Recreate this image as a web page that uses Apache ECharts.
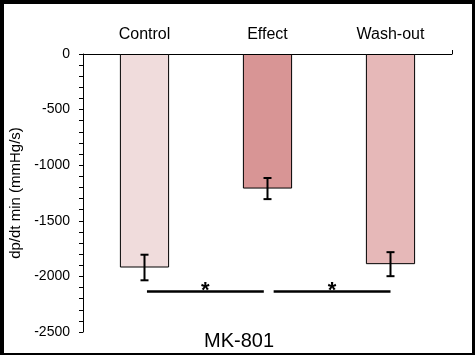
<!DOCTYPE html>
<html>
<head>
<meta charset="utf-8">
<script src="https://cdn.jsdelivr.net/npm/echarts@6/dist/echarts.min.js"></script>
<style>
html,body{margin:0;padding:0;background:#000;}
#chart{width:475px;height:355px;}
</style>
</head>
<body>
<div id="chart"></div>
<script>
// ---- data ----
var categories = ['Control', 'Effect', 'Wash-out'];
var means = [-1920, -1210, -1890];
var errors = [115, 95, 108];
var barColors = ['#f0dcdc', '#d89595', '#e6b8b8'];
var yTicks = [0, -500, -1000, -1500, -2000, -2500];
// significance brackets: [xStart, xEnd] on a 0..3 category-span scale
var sigStarts = [0.52, 1.55];
var sigEnds = [1.47, 2.50];
var sigLevel = -2130;
var sigLabels = ['*', '*'];
var yName = 'dp/dt min (mmHg/s)';
var titleText = 'MK-801';

var chart = echarts.init(document.getElementById('chart'), null, {renderer: 'canvas'});

var barData = means.map(function (v, i) {
  return {value: v, itemStyle: {color: barColors[i]}};
});
var errData = means.map(function (v, i) {
  return [i, v + errors[i], v - errors[i]];
});
var sigData = sigStarts.map(function (s, i) {
  return [s, sigEnds[i], sigLevel, sigLabels[i]];
});

var font = 'Liberation Sans, Arial, sans-serif';

chart.setOption({
  backgroundColor: '#000',
  animation: false,
  graphic: [{
    type: 'rect', z: -100, silent: true,
    shape: {x: 4, y: 4, width: 468, height: 349},
    style: {fill: '#fff'}
  }],
  title: {
    text: titleText, left: 234, top: 326, textAlign: 'center',
    textStyle: {fontFamily: font, fontSize: 20, fontWeight: 'normal', color: '#000'}
  },
  grid: {left: 81, top: 54, right: 23, bottom: 23},
  xAxis: [{
    type: 'category', data: categories, position: 'top',
    axisLine: {lineStyle: {color: '#000', width: 1}},
    axisTick: {alignWithLabel: true, length: 4, lineStyle: {color: '#000'}},
    axisLabel: {color: '#000', fontFamily: font, fontSize: 16, margin: 11}
  }, {
    type: 'value', min: 0, max: 3, position: 'top', show: true,
    axisLine: {show: false},
    axisTick: {show: true, length: 4, customValues: [3], lineStyle: {color: '#000'}},
    axisLabel: {show: false},
    splitLine: {show: false}
  }],
  yAxis: {
    type: 'value', min: -2500, max: 0, interval: 500,
    name: yName, nameLocation: 'middle', nameGap: 60, nameRotate: 90,
    nameTextStyle: {fontFamily: font, fontSize: 15, color: '#000'},
    axisLine: {show: true, lineStyle: {color: '#000', width: 1}},
    axisTick: {show: true, length: 4, lineStyle: {color: '#000'}},
    minorTick: {show: true, splitNumber: 5, length: 4, lineStyle: {color: '#000'}},
    axisLabel: {color: '#000', fontFamily: font, fontSize: 14, margin: 13,
      formatter: function (v) { return String(v); }},
    splitLine: {show: false}
  },
  series: [{
    type: 'bar', data: barData, barWidth: '40%',
    itemStyle: {borderColor: '#000', borderWidth: 1},
    z: 2
  }, {
    type: 'custom', data: errData, z: 5,
    renderItem: function (params, api) {
      var x = api.value(0);
      var top = api.coord([x, api.value(1)]);
      var bot = api.coord([x, api.value(2)]);
      var cx = top[0], hw = 4;
      var st = {stroke: '#000', lineWidth: 2};
      return {type: 'group', children: [
        {type: 'line', shape: {x1: cx, y1: top[1], x2: cx, y2: bot[1]}, style: st},
        {type: 'line', shape: {x1: cx - hw, y1: top[1], x2: cx + hw, y2: top[1]}, style: st},
        {type: 'line', shape: {x1: cx - hw, y1: bot[1], x2: cx + hw, y2: bot[1]}, style: st}
      ]};
    }
  }, {
    type: 'custom', data: sigData, xAxisIndex: 1, z: 5,
    renderItem: function (params, api) {
      var p1 = api.coord([api.value(0), api.value(2)]);
      var p2 = api.coord([api.value(1), api.value(2)]);
      var y = Math.round(p1[1]) + 0.5;
      return {type: 'group', children: [
        {type: 'line', shape: {x1: p1[0], y1: y, x2: p2[0], y2: y},
         style: {stroke: '#000', lineWidth: 2.5}},
        {type: 'text', style: {text: sigLabels[params.dataIndex], x: (p1[0] + p2[0]) / 2, y: y - 1,
          textAlign: 'center', textVerticalAlign: 'middle', fill: '#000',
          font: 'bold 22px ' + font}}
      ]};
    }
  }]
});
</script>
</body>
</html>
